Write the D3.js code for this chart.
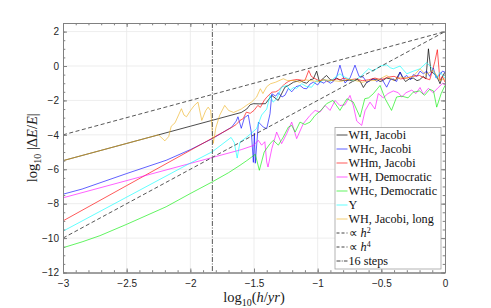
<!DOCTYPE html>
<html><head><meta charset="utf-8">
<script src="https://cdn.jsdelivr.net/npm/d3@7"></script>
<style>body{margin:0;background:#fff}svg{display:block}</style>
</head><body>
<script>
// ---------- data ----------
const xTicks = [-3, -2.5, -2, -1.5, -1, -0.5, 0];
const yTicks = [-12, -10, -8, -6, -4, -2, 0, 2];
const legendLabels = ["WH, Jacobi","WHc, Jacobi","WHm, Jacobi","WH, Democratic","WHc, Democratic","Y","WH, Jacobi, long"];

const whJacobi = [[-3,-5.5],[-2.5,-4.5],[-2,-3.5],[-1.6,-2.7],[-1.557,-2.5],[-1.53,-2.25],[-1.505,-2.19],[-1.46,-2.2],[-1.41,-2.19],[-1.36,-1.71],[-1.31,-2.0],[-1.257,-1.23],[-1.23,-1.13],[-1.19,-0.94],[-1.139,-0.84],[-1.11,-0.95],[-1.086,-1.0],[-1.06,-0.8],[-1.034,-0.75],[-1.008,-0.3],[-0.985,-0.94],[-0.955,-0.7],[-0.93,-0.55],[-0.9,-0.8],[-0.877,-0.84],[-0.85,-0.7],[-0.83,-0.8],[-0.79,-0.85],[-0.75,-0.82],[-0.72,-0.88],[-0.69,-0.78],[-0.665,-0.9],[-0.641,-1.25],[-0.615,-0.95],[-0.6,-0.9],[-0.57,-0.75],[-0.536,-0.78],[-0.51,-0.9],[-0.49,-0.85],[-0.46,-0.7],[-0.42,-0.76],[-0.39,-0.85],[-0.353,-0.36],[-0.33,-0.7],[-0.31,-0.9],[-0.28,-0.75],[-0.249,-0.7],[-0.22,-0.85],[-0.2,-0.8],[-0.17,-0.6],[-0.15,-0.75],[-0.13,1.0],[-0.11,-0.35],[-0.092,-0.4],[-0.065,-0.6],[-0.039,-1.03],[-0.02,-0.6],[0,-0.36]];

const whcJacobi = [[-3,-7.45],[-2.85,-7.15],[-2.71,-6.79],[-2.5,-6.25],[-2.19,-5.48],[-2,-4.86],[-1.827,-4.22],[-1.675,-3.55],[-1.64,-3.2],[-1.626,-2.95],[-1.6,-3.62],[-1.575,-3.0],[-1.545,-2.85],[-1.52,-3.9],[-1.505,-5.6],[-1.497,-3.9],[-1.49,-5.65],[-1.465,-3.26],[-1.427,-3.55],[-1.4,-3.64],[-1.374,-2.77],[-1.36,-1.61],[-1.33,-1.75],[-1.309,-1.55],[-1.28,-1.8],[-1.257,-1.7],[-1.23,-1.3],[-1.204,-1.5],[-1.17,-1.2],[-1.139,-1.13],[-1.11,-1.3],[-1.086,-1.32],[-1.06,-1.05],[-1.034,-0.94],[-1.0,-1.1],[-0.98,-0.9],[-0.95,-1.0],[-0.93,-0.85],[-0.9,-1.0],[-0.877,-0.9],[-0.85,-0.6],[-0.825,0.05],[-0.785,-0.99],[-0.746,-0.7],[-0.707,0.05],[-0.675,-0.6],[-0.641,-0.65],[-0.615,-0.95],[-0.589,-0.85],[-0.56,-0.75],[-0.536,-0.9],[-0.5,-0.7],[-0.458,-1.23],[-0.43,-0.8],[-0.406,-0.75],[-0.38,-0.9],[-0.353,-0.35],[-0.33,-0.7],[-0.3,-0.55],[-0.27,-0.8],[-0.249,-0.5],[-0.22,-0.6],[-0.196,-0.3],[-0.17,-0.45],[-0.144,-0.3],[-0.12,-0.6],[-0.092,-0.1],[-0.07,-0.7],[-0.039,-0.5],[-0.02,-0.3],[0,-0.36]];

const whmJacobi = [[-3,-9.0],[-2.5,-6.95],[-2,-4.9],[-1.827,-4.19],[-1.675,-3.57],[-1.64,-3.4],[-1.61,-3.16],[-1.585,-3.06],[-1.56,-2.68],[-1.53,-2.75],[-1.5,-2.58],[-1.47,-2.29],[-1.45,-2.4],[-1.42,-2.0],[-1.4,-1.81],[-1.36,-1.52],[-1.33,-1.5],[-1.31,-1.42],[-1.27,-1.13],[-1.257,-1.03],[-1.23,-0.9],[-1.21,-0.84],[-1.18,-0.8],[-1.16,-0.78],[-1.13,-0.82],[-1.1,-0.84],[-1.07,-0.26],[-1.05,-0.6],[-1.03,-0.7],[-0.99,-0.85],[-0.95,-0.8],[-0.92,-0.9],[-0.9,-0.84],[-0.85,-0.75],[-0.82,-0.8],[-0.8,-0.7],[-0.75,-0.8],[-0.7,-0.75],[-0.65,-0.85],[-0.6,-0.8],[-0.55,-0.7],[-0.5,-0.8],[-0.45,-0.65],[-0.4,-0.6],[-0.35,-0.75],[-0.3,-0.7],[-0.25,-0.6],[-0.2,-0.55],[-0.16,-0.7],[-0.12,-0.8],[-0.1,-0.3],[-0.08,0.25],[-0.06,0.95],[-0.04,-0.84],[-0.02,-0.6],[0,-0.94]];

const whDemocratic = [[-3,-7.66],[-2.5,-6.66],[-2,-5.66],[-1.6,-4.86],[-1.505,-4.62],[-1.466,-4.32],[-1.44,-4.6],[-1.415,-4.4],[-1.4,-5.58],[-1.39,-5.87],[-1.36,-4.8],[-1.322,-3.84],[-1.283,-4.51],[-1.243,-3.93],[-1.204,-3.26],[-1.165,-4.22],[-1.113,-3.35],[-1.06,-2.87],[-1.02,-2.58],[-0.982,-2.68],[-0.942,-2.29],[-0.903,-2.58],[-0.863,-2.0],[-0.825,-2.3],[-0.785,-2.25],[-0.746,-1.71],[-0.72,-2.3],[-0.693,-3.2],[-0.654,-3.45],[-0.628,-2.6],[-0.589,-2.1],[-0.55,-2.5],[-0.524,-1.6],[-0.485,-1.85],[-0.448,-1.6],[-0.406,-1.45],[-0.367,-1.55],[-0.34,-1.8],[-0.306,-1.55],[-0.261,-1.4],[-0.228,-1.6],[-0.196,-1.25],[-0.17,-1.65],[-0.131,-1.3],[-0.092,-1.55],[-0.053,-1.25],[-0.018,-1.0],[0,-1.1]];

const whcDemocratic = [[-3,-10.56],[-2.85,-10.22],[-2.71,-9.86],[-2.5,-9.2],[-2.19,-8.18],[-2,-7.41],[-1.827,-6.73],[-1.7,-6.2],[-1.61,-5.77],[-1.557,-5.5],[-1.52,-5.3],[-1.49,-5.13],[-1.458,-6.06],[-1.42,-5.0],[-1.374,-4.51],[-1.348,-4.32],[-1.309,-4.6],[-1.27,-4.13],[-1.23,-3.55],[-1.204,-3.45],[-1.177,-3.84],[-1.139,-3.26],[-1.1,-3.4],[-1.06,-3.26],[-1.02,-2.87],[-0.98,-2.62],[-0.93,-2.19],[-0.88,-2.0],[-0.825,-2.58],[-0.77,-1.9],[-0.72,-2.1],[-0.667,-2.97],[-0.63,-1.9],[-0.6,-1.85],[-0.563,-1.61],[-0.51,-1.13],[-0.47,-1.9],[-0.42,-2.58],[-0.38,-1.8],[-0.34,-1.75],[-0.29,-1.85],[-0.25,-1.52],[-0.2,-1.45],[-0.16,-1.7],[-0.12,-1.35],[-0.09,-1.45],[-0.065,-2.39],[-0.03,-1.6],[0,-1.13]];

const yoshida = [[-3,-9.6],[-2.5,-7.62],[-2,-5.64],[-1.827,-4.98],[-1.68,-4.15],[-1.655,-4.45],[-1.632,-5.35],[-1.61,-4.42],[-1.557,-4.13],[-1.52,-3.9],[-1.48,-3.64],[-1.44,-2.85],[-1.4,-2.5],[-1.374,-1.7],[-1.35,-2.1],[-1.322,-1.9],[-1.283,-1.23],[-1.243,-1.13],[-1.217,-1.42],[-1.19,-1.25],[-1.165,-1.3],[-1.125,-1.03],[-1.086,-1.2],[-1.047,-1.23],[-1.008,-0.84],[-0.98,-0.94],[-0.955,-0.8],[-0.929,-0.84],[-0.9,-0.9],[-0.877,-0.74],[-0.825,-0.45],[-0.8,-0.6],[-0.77,-0.7],[-0.74,-0.8],[-0.707,-0.84],[-0.68,-0.7],[-0.654,-0.55],[-0.6,-0.16],[-0.563,-0.3],[-0.51,0],[-0.458,0.07],[-0.43,-0.1],[-0.406,-0.16],[-0.353,0],[-0.33,-0.2],[-0.3,-0.45],[-0.249,-0.3],[-0.196,-0.16],[-0.144,0.2],[-0.104,-0.1],[-0.065,-0.7],[-0.039,-0.36],[0,-0.7]];

const whJacobiLong = [[-3,-5.5],[-2.5,-4.5],[-2.25,-4.0],[-2.2,-4.35],[-2.17,-4.1],[-2.15,-3.5],[-2.12,-3.3],[-2.07,-2.48],[-2.05,-2.85],[-2.03,-2.95],[-2.0,-2.6],[-1.97,-2.3],[-1.94,-2.1],[-1.91,-3.16],[-1.88,-2.6],[-1.86,-2.39],[-1.84,-2.6],[-1.82,-4.5],[-1.8,-3.6],[-1.77,-2.87],[-1.73,-2.29],[-1.7,-2.58],[-1.66,-2.7],[-1.63,-2.6],[-1.6,-2.5],[-1.56,-2.29],[-1.52,-2.1],[-1.48,-1.81],[-1.45,-1.32],[-1.43,-1.6],[-1.4,-1.2],[-1.37,-1.03],[-1.33,-0.94],[-1.27,-0.74],[-1.24,-0.84],[-1.18,-0.84],[-1.14,-0.95],[-1.1,-0.8],[-1.05,-0.85],[-1.0,-0.9],[-0.95,-0.8],[-0.88,-0.85],[-0.82,-0.9],[-0.75,-0.76],[-0.7,-0.85],[-0.65,-0.95],[-0.6,-0.85],[-0.536,-0.84],[-0.458,-0.55],[-0.406,-0.84],[-0.35,-0.65],[-0.3,-0.7],[-0.25,-0.6],[-0.196,-0.16],[-0.15,-0.5],[-0.092,-0.25],[-0.06,-0.6],[-0.039,-0.84],[0,-0.74]];

const propH2 = [[-3,-4],[0,2]];
const propH4 = [[-3,-10],[0,2]];
const sixteenSteps = -1.827;

// ---------- chart ----------
const W = 491, H = 308;
const L = 63, R = 445, T = 23, B = 272.5;
const x = d3.scaleLinear().domain([-3, 0]).range([L, R]);
const y = d3.scaleLinear().domain([-12, 2.5]).range([B, T]);

const svg = d3.select("body").append("svg").attr("width", W).attr("height", H)
  .style("font-family", "'Liberation Sans', Arial, sans-serif");
svg.append("rect").attr("width", W).attr("height", H).attr("fill", "#fff");

// grid
const grid = svg.append("g").attr("stroke", "#e9e9e9").attr("stroke-width", 0.8);
grid.selectAll(".gx").data(xTicks.slice(1, -1)).join("line")
  .attr("x1", d => x(d)).attr("x2", d => x(d)).attr("y1", T).attr("y2", B);
grid.selectAll(".gy").data(yTicks.slice(1)).join("line")
  .attr("y1", d => y(d)).attr("y2", d => y(d)).attr("x1", L).attr("x2", R);

// clip
svg.append("clipPath").attr("id", "clip").append("rect")
  .attr("x", L).attr("y", T).attr("width", R - L).attr("height", B - T);
const plot = svg.append("g").attr("clip-path", "url(#clip)");
const line = d3.line().x(d => x(d[0])).y(d => y(d[1]));

const seriesData = [whJacobi, whcJacobi, whmJacobi, whDemocratic, whcDemocratic, yoshida, whJacobiLong];
const seriesColors = ["#000000", "#0000ff", "#ff0000", "#ff00ff", "#00ee00", "#00ffff", "#edb120"];
const seriesOpacity = [0.7, 0.62, 0.65, 0.62, 0.62, 0.62, 0.62];

seriesData.forEach((s, i) => {
  plot.append("path").datum(s).attr("d", line).attr("fill", "none")
    .attr("stroke", seriesColors[i]).attr("stroke-opacity", seriesOpacity[i])
    .attr("stroke-width", 1).attr("stroke-linejoin", "round");
});
[propH2, propH4].forEach(s => {
  plot.append("path").datum(s).attr("d", line).attr("fill", "none")
    .attr("stroke", "#444").attr("stroke-width", 0.9).attr("stroke-dasharray", "4,2.5");
});
plot.append("line").attr("x1", x(sixteenSteps)).attr("x2", x(sixteenSteps))
  .attr("y1", T).attr("y2", B).attr("stroke", "#444").attr("stroke-width", 0.9)
  .attr("stroke-dasharray", "5,1.5,1,1.5");

// axes
const axisColor = "#808080";
const minorX = d3.range(-3, 0.0001, 0.1);
const minorY = d3.range(-12, 2.5001, 0.5);
function styleAxis(g) {
  g.select(".domain").attr("stroke", axisColor);
  g.selectAll(".tick line").attr("stroke", axisColor);
  g.selectAll(".tick text").attr("fill", "#262626").attr("font-size", 10);
}
svg.append("g").attr("transform", `translate(0,${B})`)
  .call(d3.axisBottom(x).tickValues(xTicks).tickSize(-4).tickSizeOuter(0).tickPadding(7.5)
    .tickFormat(d => d3.format("")(d)))
  .call(styleAxis).attr("font-family", null);
svg.append("g").attr("transform", `translate(0,${B})`)
  .call(d3.axisBottom(x).tickValues(minorX).tickSize(-2.3).tickSizeOuter(0).tickFormat(""))
  .call(styleAxis);
svg.append("g").attr("transform", `translate(0,${T})`)
  .call(d3.axisTop(x).tickValues(xTicks).tickSize(-4).tickSizeOuter(0).tickFormat(""))
  .call(styleAxis);
svg.append("g").attr("transform", `translate(0,${T})`)
  .call(d3.axisTop(x).tickValues(minorX).tickSize(-2.3).tickSizeOuter(0).tickFormat(""))
  .call(styleAxis);
svg.append("g").attr("transform", `translate(${L},0)`)
  .call(d3.axisLeft(y).tickValues(yTicks).tickSize(-4).tickSizeOuter(0).tickPadding(4))
  .call(styleAxis).attr("font-family", null);
svg.append("g").attr("transform", `translate(${L},0)`)
  .call(d3.axisLeft(y).tickValues(minorY).tickSize(-2.3).tickSizeOuter(0).tickFormat(""))
  .call(styleAxis);
svg.append("g").attr("transform", `translate(${R},0)`)
  .call(d3.axisRight(y).tickValues(yTicks).tickSize(-4).tickSizeOuter(0).tickFormat(""))
  .call(styleAxis);
svg.append("g").attr("transform", `translate(${R},0)`)
  .call(d3.axisRight(y).tickValues(minorY).tickSize(-2.3).tickSizeOuter(0).tickFormat(""))
  .call(styleAxis);
svg.selectAll(".tick text").attr("font-family", "'Liberation Sans', Arial, sans-serif");

// axis labels
const serif = "'Liberation Serif', 'Times New Roman', serif";
const xl = svg.append("text").attr("x", (L + R) / 2).attr("y", 302)
  .attr("text-anchor", "middle").attr("font-family", serif).attr("font-size", 14.5).attr("fill", "#1a1a1a");
xl.append("tspan").text("log");
xl.append("tspan").attr("font-size", 10).attr("dy", 3.5).text("10");
xl.append("tspan").attr("dy", -3.5).text("(");
xl.append("tspan").attr("font-style", "italic").text("h");
xl.append("tspan").text("/");
xl.append("tspan").attr("font-style", "italic").text("yr");
xl.append("tspan").text(")");

const yl = svg.append("text").attr("transform", `translate(37,${(T + B) / 2}) rotate(-90)`)
  .attr("text-anchor", "middle").attr("font-family", serif).attr("font-size", 14.5).attr("fill", "#1a1a1a");
yl.append("tspan").text("log");
yl.append("tspan").attr("font-size", 10).attr("dy", 3.5).text("10");
yl.append("tspan").attr("dy", -3.5).text(" |Δ");
yl.append("tspan").attr("font-style", "italic").text("E");
yl.append("tspan").text("/");
yl.append("tspan").attr("font-style", "italic").text("E");
yl.append("tspan").text("|");

// legend
const lg = svg.append("g");
lg.append("rect").attr("x", 335).attr("y", 127.5).attr("width", 106).attr("height", 141.5)
  .attr("fill", "#fff").attr("stroke", "#a0a0a0").attr("stroke-width", 0.8);
const legendItems = legendLabels.map((t, i) => ({text: t, color: seriesColors[i], op: seriesOpacity[i], dash: null}))
  .concat([{text: "h2", color: "#444", op: 1, dash: "3,2"}, {text: "h4", color: "#444", op: 1, dash: "3,2"},
           {text: "16 steps", color: "#444", op: 1, dash: "4,1.2,1,1.2"}]);
legendItems.forEach((d, i) => {
  const cy = 135 + 14 * i;
  lg.append("line").attr("x1", 336.5).attr("x2", 347.5).attr("y1", cy).attr("y2", cy)
    .attr("stroke", d.color).attr("stroke-opacity", d.op).attr("stroke-width", 1)
    .attr("stroke-dasharray", d.dash);
  const t = lg.append("text").attr("x", 348.5).attr("y", cy).attr("dy", "0.36em")
    .attr("font-family", serif).attr("font-size", 12.2).attr("fill", "#111");
  if (d.text === "h2" || d.text === "h4") {
    t.append("tspan").text("∝ ");
    t.append("tspan").attr("font-style", "italic").text("h");
    t.append("tspan").attr("font-size", 8).attr("dy", -4.5).text(d.text[1]);
  } else {
    t.text(d.text);
  }
});
</script>
</body></html>
